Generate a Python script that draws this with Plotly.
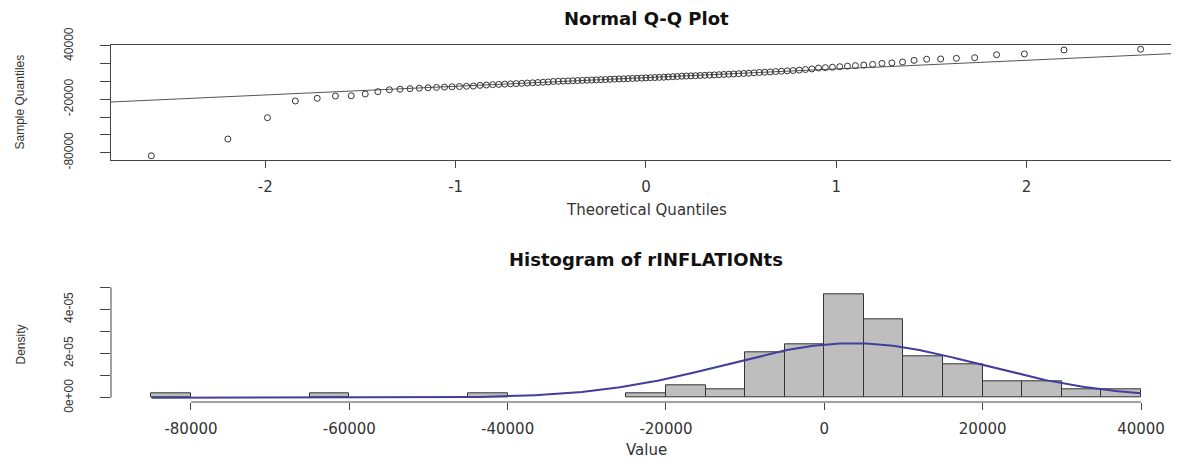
from statistics import NormalDist

import numpy as np
import plotly.graph_objects as go

inflation = [
    -83400, -64600, -40650, -21870, -18830, -16240, -16000, -14000, -11400,
    -9200, -8600, -8000, -7500, -7000, -6600, -6200, -5900, -5600, -5300, -5100,
    -4300, -3900, -3500, -3200, -2900, -2600, -2300, -2000, -1700, -1400, -1100, -800, -400,
    100, 300, 500, 700, 900, 1100, 1300, 1500, 1700, 1900, 2100, 2300, 2500,
    2700, 2900, 3100, 3300, 3500, 3700, 3900, 4100, 4300, 4500, 4700, 4900,
    5200, 5500, 5700, 6000, 6200, 6400, 6600, 6800, 7000, 7300, 7500, 7700,
    8000, 8200, 8500, 8800, 9100, 9400, 9800,
    10200, 10500, 10800, 11200, 11600, 12000, 12400, 12900, 13500, 14200,
    15200, 15600, 16100, 16700, 17300, 17900, 18600, 19300,
    20400, 21000, 22000, 23800,
    25100, 25400, 26100, 26800,
    30200, 31000,
    35500, 36300,
]

# histogram breaks
hist_start = -85000
hist_end = 40000
bin_width = 5000

# axis ticks
qq_xticks = [-2, -1, 0, 1, 2]
qq_yticks = [-80000, -60000, -40000, -20000, 0, 20000, 40000]
qq_ylabels = ["-80000", "", "", "-20000", "", "", "40000"]
hist_xticks = [-80000, -60000, -40000, -20000, 0, 20000, 40000]
hist_yticks = [0, 1e-5, 2e-5, 3e-5, 4e-5, 5e-5]
hist_ylabels = ["0e+00", "", "2e-05", "", "4e-05", ""]

# the page puts the figure 8px in from the corner, so work in window pixels
OFF = 8
W, H = 1179 - OFF, 461 - OFF


def fx(p):
    return (p - OFF) / W


def fy(p):
    return 1 - (p - OFF) / H


nd = NormalDist()
n = len(inflation)
theo = [nd.inv_cdf((i + 0.5) / n) for i in range(n)]

q1, q3 = np.percentile(inflation, [25, 75])
z1, z3 = nd.inv_cdf(0.25), nd.inv_cdf(0.75)
slope = (q3 - q1) / (z3 - z1)
icept = q1 - slope * z1

qq_xrange = [-2.811, 2.801]
line_x = np.array(qq_xrange)

mu = np.mean(inflation)
sd = np.std(inflation, ddof=1)
curve_x = np.linspace(hist_start, hist_end, 300)
pdf = NormalDist(mu, sd).pdf
curve_y = [pdf(v) for v in curve_x]

axis_col = "#444444"
font_h = dict(family="DejaVu Sans", size=15, color="#333333")
font_v = dict(family="Liberation Sans", size=12, color="#333333")

fig = go.Figure()

fig.add_trace(go.Scatter(
    x=line_x, y=icept + slope * line_x, mode="lines",
    line=dict(color="#555555", width=1), xaxis="x", yaxis="y",
    hoverinfo="skip",
))
fig.add_trace(go.Scatter(
    x=theo, y=inflation, mode="markers",
    marker=dict(symbol="circle-open", size=6, color="#333333", line=dict(width=1)),
    xaxis="x", yaxis="y",
))

fig.add_trace(go.Histogram(
    x=inflation, histnorm="probability density",
    xbins=dict(start=hist_start, end=hist_end, size=bin_width),
    marker=dict(color="#BEBEBE", line=dict(color="#333333", width=1)),
    xaxis="x2", yaxis="y2",
))
fig.add_trace(go.Scatter(
    x=curve_x, y=curve_y, mode="lines",
    line=dict(color="#3f3f9c", width=2), xaxis="x2", yaxis="y2",
))

fig.update_layout(
    width=W, height=H,
    margin=dict(l=0, r=0, t=0, b=0, pad=0, autoexpand=False),
    paper_bgcolor="white", plot_bgcolor="white",
    showlegend=False, bargap=0,
    xaxis=dict(
        domain=[fx(111), 1], range=qq_xrange, automargin=False,
        tickvals=qq_xticks, ticktext=[str(v) for v in qq_xticks],
        ticks="outside", ticklen=7, tickcolor=axis_col,
        showline=True, mirror=True, linecolor=axis_col, linewidth=1,
        showgrid=False, zeroline=False, tickfont=font_h,
        ticklabelstandoff=6, anchor="y",
    ),
    yaxis=dict(
        domain=[fy(160), fy(45)], range=[-88190, 41090], automargin=False,
        tickvals=qq_yticks, ticktext=qq_ylabels, tickangle=-90,
        ticks="outside", ticklen=10, tickcolor=axis_col,
        showline=True, mirror=False, linecolor=axis_col, linewidth=1,
        showgrid=False, zeroline=False, tickfont=font_v,
        ticklabelstandoff=22, anchor="x",
    ),
    xaxis2=dict(
        domain=[fx(111), 1], range=[-90100, 44800], automargin=False,
        tickvals=hist_xticks, ticktext=[str(v) for v in hist_xticks],
        ticks="outside", ticklen=7, tickcolor=axis_col,
        showline=False, showgrid=False, zeroline=False, tickfont=font_h,
        ticklabelstandoff=6, anchor="y2",
    ),
    yaxis2=dict(
        domain=[fy(402), fy(287.3)], range=[-0.195e-5, 5.0e-5], automargin=False,
        tickvals=hist_yticks, ticktext=hist_ylabels, tickangle=-90,
        ticks="outside", ticklen=10, tickcolor=axis_col,
        showline=False, showgrid=False, zeroline=False, tickfont=font_v,
        ticklabelstandoff=22, anchor="x2",
    ),
    shapes=[
        dict(type="line", xref="x2", yref="y2 domain",
             x0=min(hist_xticks), x1=max(hist_xticks), y0=0, y1=0,
             line=dict(color=axis_col, width=1)),
        dict(type="line", xref="x2 domain", yref="y2",
             x0=0, x1=0, y0=min(hist_yticks), y1=max(hist_yticks),
             line=dict(color=axis_col, width=1)),
    ],
)

title_font = dict(family="DejaVu Sans", size=18, color="#111111", weight="bold")
notes = [
    ("Normal Q-Q Plot", 646, 18.5, 0, title_font),
    ("Theoretical Quantiles", 646, 210, 0, font_h),
    ("Sample Quantiles", 19, 102.5, -90, font_v),
    ("Histogram of rINFLATIONts", 646, 259, 0, title_font),
    ("Value", 646, 450, 0, font_h),
    ("Density", 20, 344.5, -90, font_v),
]
for text, px, py, ang, fnt in notes:
    fig.add_annotation(
        text=text, x=fx(px), y=fy(py), xref="paper", yref="paper",
        xanchor="center", yanchor="middle", textangle=ang,
        showarrow=False, font=fnt,
    )

fig.write_html("out.html")
